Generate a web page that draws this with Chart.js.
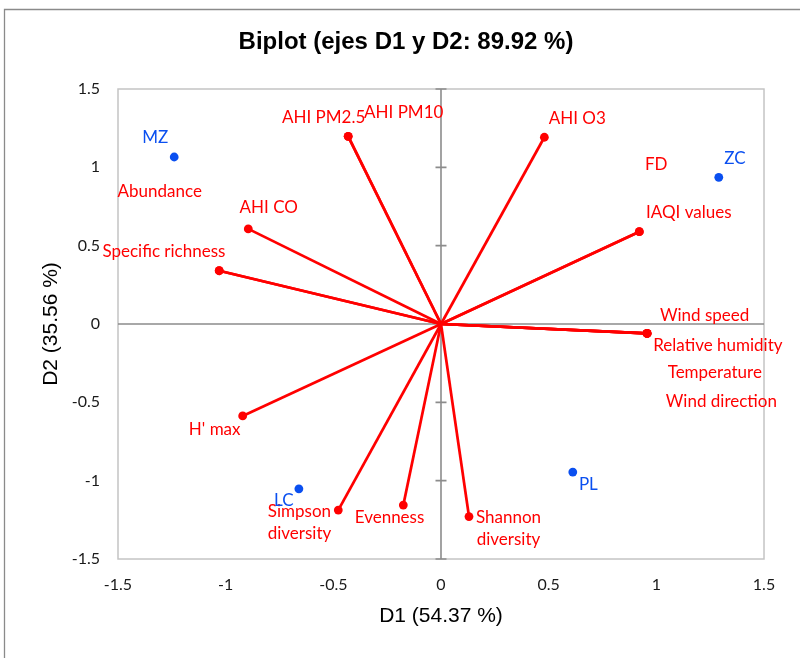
<!DOCTYPE html>
<html>
<head>
<meta charset="utf-8">
<title>Biplot</title>
<script src="https://cdn.jsdelivr.net/npm/chart.js@4/dist/chart.umd.min.js"></script>
<style>
  html, body { margin: 0; padding: 0; background: #fff; }
  canvas { display: block; }
</style>
</head>
<body>
<canvas id="biplot" width="800" height="658"></canvas>
<script>
// variables (red vectors) - coordinates on D1 / D2
const varNames = ['Abundance', 'AHI PM2.5', 'AHI PM10', 'AHI O3', 'FD', 'IAQI values',
  'Wind speed', 'Relative humidity', 'Temperature', 'Wind direction', 'AHI CO',
  'Specific richness', "H' max", 'Simpson diversity', 'Evenness', 'Shannon diversity'];
const varD1 = [-1.030, -0.431, -0.431, 0.480, 0.921, 0.921,
  0.957, 0.957, 0.957, 0.957, -0.895,
  -1.030, -0.921, -0.477, -0.175, 0.130];
const varD2 = [0.340, 1.198, 1.198, 1.192, 0.589, 0.589,
  -0.060, -0.060, -0.060, -0.060, 0.607,
  0.340, -0.587, -1.188, -1.156, -1.229];

// sites (blue points)
const siteNames = ['MZ', 'ZC', 'LC', 'PL'];
const siteD1 = [-1.239, 1.290, -0.660, 0.612];
const siteD2 = [1.066, 0.936, -1.052, -0.945];

const axisTicks = [-1.5, -1, -0.5, 0, 0.5, 1, 1.5];

// label placement (pixel offset of the label centre from its point)
const varLabelOffset = [[-59.5, -79], [-24.6, -19.2], [55.5, -23.7], [32.9, -19.2], [16.9, -67.5],
  [49.4, -19.5], [57.5, -17.9], [70.8, 12.5], [67.7, 38.8], [74.3, 68.3], [20.5, -21],
  [-55.3, -19.5], [-28, 13.2], [-38.8, 1.7], [-13.8, 12.2], [39.5, 1.1]];
const siteLabelOffset = [[-19, -19], [16.1, -18.9], [-15, 12], [15.6, 12.5]];
const wrapLabels = ['Simpson diversity', 'Shannon diversity'];

const RED = '#ff0000';
const BLUE = '#0a4ff0';
const labelFont = '17px Lato, "Noto Sans", sans-serif';

const datasets = [];
varNames.forEach((name, i) => {
    datasets.push({
        type: 'scatter',
        label: name,
        data: [{x: 0, y: 0}, {x: varD1[i], y: varD2[i]}],
        showLine: true,
        borderColor: RED,
        borderWidth: 2.7,
        pointRadius: [0, 4.4],
        pointBackgroundColor: RED,
        pointBorderWidth: 0,
        pointHoverRadius: [0, 4.4]
    });
});
datasets.push({
    type: 'scatter',
    label: 'sites',
    data: siteD1.map((x, i) => ({x: x, y: siteD2[i]})),
    pointRadius: 4.4,
    pointBackgroundColor: BLUE,
    pointBorderWidth: 0
});

// frame, title, plot border, zero axes and data labels
const biplotDecor = {
    id: 'biplotDecor',
    beforeDraw(chart) {
        const ctx = chart.ctx;
        ctx.save();
        ctx.fillStyle = '#fff';
        ctx.fillRect(0, 0, chart.width, chart.height);
        ctx.strokeStyle = '#8a8a8a';
        ctx.lineWidth = 1.3;
        ctx.beginPath();
        ctx.moveTo(4.5, chart.height + 2);
        ctx.lineTo(4.5, 9.5);
        ctx.lineTo(chart.width + 2, 9.5);
        ctx.stroke();
        ctx.fillStyle = '#000';
        ctx.font = 'bold 24px "Liberation Sans", Arial, sans-serif';
        ctx.textAlign = 'center';
        ctx.textBaseline = 'alphabetic';
        ctx.fillText('Biplot (ejes D1 y D2: 89.92 %)', 406, 49);
        ctx.restore();
    },
    beforeDatasetsDraw(chart) {
        const {ctx, chartArea: a, scales} = chart;
        const x0 = scales.x.getPixelForValue(0);
        const y0 = scales.y.getPixelForValue(0);
        ctx.save();
        ctx.strokeStyle = '#c4c4c4';
        ctx.lineWidth = 1.5;
        ctx.strokeRect(a.left, a.top, a.right - a.left, a.bottom - a.top);
        ctx.strokeStyle = '#8c8c8c';
        ctx.lineWidth = 1.6;
        ctx.beginPath();
        ctx.moveTo(a.left, y0);
        ctx.lineTo(a.right, y0);
        ctx.moveTo(x0, a.top);
        ctx.lineTo(x0, a.bottom);
        axisTicks.forEach(v => {
            const py = scales.y.getPixelForValue(v);
            ctx.moveTo(x0 - 5.5, py);
            ctx.lineTo(x0 + 5.5, py);
        });
        ctx.stroke();
        ctx.restore();
    },
    afterDatasetsDraw(chart) {
        const {ctx, scales} = chart;
        ctx.save();
        ctx.font = labelFont;
        ctx.textAlign = 'center';
        ctx.textBaseline = 'middle';
        const put = (text, x, y, off, color) => {
            const px = scales.x.getPixelForValue(x) + off[0];
            const py = scales.y.getPixelForValue(y) + off[1];
            ctx.fillStyle = color;
            if (wrapLabels.includes(text)) {
                text.split(' ').forEach((line, k) => ctx.fillText(line, px, py + k * 21.5));
            } else {
                ctx.fillText(text, px, py);
            }
        };
        varNames.forEach((n, i) => put(n, varD1[i], varD2[i], varLabelOffset[i], RED));
        siteNames.forEach((n, i) => put(n, siteD1[i], siteD2[i], siteLabelOffset[i], BLUE));
        ctx.restore();
    }
};

const tickFont = {family: 'Lato, "Noto Sans", sans-serif', size: 16};
const titleFont = {family: '"Liberation Sans", Arial, sans-serif', size: 21};
const tickText = v => String(v);

new Chart(document.getElementById('biplot'), {
    type: 'scatter',
    data: {datasets: datasets},
    options: {
        responsive: false,
        animation: false,
        devicePixelRatio: 1,
        layout: {padding: {top: 89, right: 36, left: 0, bottom: 0}},
        plugins: {
            legend: {display: false},
            tooltip: {enabled: false},
            title: {display: false}
        },
        scales: {
            x: {
                type: 'linear',
                min: -1.5,
                max: 1.5,
                afterBuildTicks: s => { s.ticks = axisTicks.map(v => ({value: v})); },
                afterFit: s => { s.height = 99; },
                grid: {display: false, drawTicks: false},
                border: {display: false},
                ticks: {font: tickFont, color: '#1a1a1a', padding: 16, maxRotation: 0, callback: tickText},
                title: {display: true, text: 'D1 (54.37 %)', font: titleFont, color: '#000',
                    padding: {top: 0, bottom: 29}}
            },
            y: {
                type: 'linear',
                min: -1.5,
                max: 1.5,
                afterBuildTicks: s => { s.ticks = axisTicks.map(v => ({value: v})); },
                afterFit: s => { s.width = 118; },
                grid: {display: false, drawTicks: false},
                border: {display: false},
                ticks: {font: tickFont, color: '#1a1a1a', padding: 18, callback: tickText},
                title: {display: true, text: 'D2 (35.56 %)', font: titleFont, color: '#000',
                    padding: {top: 39, bottom: 0}}
            }
        }
    },
    plugins: [biplotDecor]
});
</script>
</body>
</html>
